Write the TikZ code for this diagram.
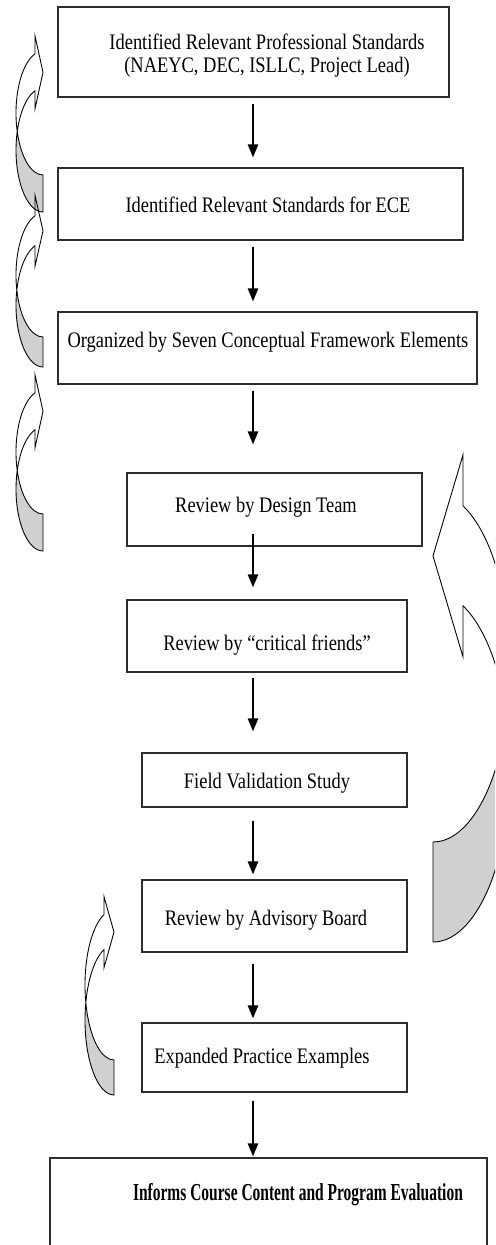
\documentclass[tikz,border=0pt]{standalone}
\usepackage{fontspec}
\setmainfont{Liberation Serif}
\usetikzlibrary{
    arrows.meta,
    calc,
    fit
}
\definecolor{backside}{RGB}{208,208,208}
\definecolor{frame}{RGB}{45,45,45}

% text is a little taller than wide in the source
\newcommand{\tall}[1]{\scalebox{1}[1.2]{#1}}

% curved return arrow, tail at the origin side, head at the top
% #1 band, #2 y radius, #3 x radius, #4 head inset, #5 half head
\newcommand{\returnarrow}[5]{%
    \pgfmathsetmacro{\neckang}{180+acos(#4/#3)}%
    \pgfmathsetmacro{\necky}{#2*sin(\neckang)}%
    \pgfmathsetmacro{\heady}{\necky+#1/2}%
    \pgfmathsetmacro{\crossang}{asin(#1/(2*#2))}%
    \fill[backside] ({#3*cos(180-\crossang)},{#2*sin(180-\crossang)})
        arc[start angle=180-\crossang, end angle=90, x radius=#3, y radius=#2]
        -- (0,{#1+#2})
        arc[start angle=90, end angle=180+\crossang, x radius=#3, y radius=#2] -- cycle;
    \draw[band] (0,{#1+#2})
        arc[start angle=90, end angle=\neckang, x radius=#3, y radius=#2]
        -- ({-#4},{\heady+#5}) -- (0,\heady) -- ({-#4},{\heady-#5}) -- ({-#4},\necky)
        arc[start angle=\neckang, end angle=90, x radius=#3, y radius=#2] -- cycle;
}

\begin{document}
\begin{tikzpicture}[x=0.02cm, y=-0.02cm,
    stage/.style={draw=frame, line width=0.6pt, inner sep=0pt},
    words/.style={font=\fontsize{10.5}{10.9}\selectfont, inner sep=0pt},
    flow/.style={line width=1.3pt, -{Triangle[length=7.4pt, width=5.7pt]}},
    band/.style={draw=black, line width=0.5pt}]
    \useasboundingbox (0,0) rectangle (495,1245);
    \clip (0,0) rectangle (495,1245);

    % Boxes
    \node[stage, fit={(58,7) (449,97)}] (b1) {};
    \node[stage, fit={(58,168) (463,240)}] (b2) {};
    \node[stage, fit={(58,312) (477,384)}] (b3) {};
    \node[stage, fit={(127,473) (422,546)}] (b4) {};
    \node[stage, fit={(127,600) (407,672)}] (b5) {};
    \node[stage, fit={(142,753) (407,807)}] (b6) {};
    \node[stage, fit={(142,880) (407,952)}] (b7) {};
    \node[stage, fit={(142,1023) (407,1092)}] (b8) {};
    \node[stage, fit={(50,1158) (487,1262)}] (b9) {};

    % Texts
    \node[words] (t1) at (267,56) {\tall{\begin{tabular}{@{}c@{}}Identified Relevant Professional Standards\\(NAEYC, DEC, ISLLC, Project Lead)\end{tabular}}};
    \node[words] (t2) at (268,205) {\tall{Identified Relevant Standards for ECE}};
    \node[words] (t3) at (268,342) {\tall{Organized by Seven Conceptual Framework Elements}};
    \node[words] (t4) at (266,507) {\tall{Review by Design Team}};
    \node[words] (t5) at (267,645) {\tall{Review by ``critical friends''}};
    \node[words] (t6) at (267,783) {\tall{Field Validation Study}};
    \node[words] (t7) at (266,920) {\tall{Review by Advisory Board}};
    \node[words] (t8) at (262,1058) {\tall{Expanded Practice Examples}};
    \node[words, font=\fontsize{10.5}{10.9}\selectfont\bfseries] (t9) at (298,1195)
        {\scalebox{0.84}[1.32]{Informs Course Content and Program Evaluation}};

    % Downward flow
    \coordinate (spine) at (253,0);
    \foreach \a/\b/\s/\e in {b1/b2/6/10, b2/b3/6/10, b3/b4/6/28, b4/b5/-13/12,
                             b5/b6/5/21, b6/b7/13/5, b7/b8/11/4, b8/b9/8/1}
        \draw[flow] ($(\a.south -| spine)+(0,\s)$) -- ($(\b.north -| spine)-(0,\e)$);

    % Curved arrows on the left
    \begin{scope}[shift={(43,113)}]
        \returnarrow{37}{62}{27}{8}{36.5}
    \end{scope}
    \begin{scope}[shift={(43,275)}]
        \returnarrow{30}{62}{27}{8}{35.5}
    \end{scope}
    \begin{scope}[shift={(43,452)}]
        \returnarrow{37}{62}{27}{8}{36.5}
    \end{scope}
    \begin{scope}[shift={(114,985)}]
        \returnarrow{35}{75}{29}{10}{35.5}
    \end{scope}

    % Large curved arrow on the right
    \begin{scope}[shift={(433,667)}, xscale=-1]
        \returnarrow{100}{175}{77}{30}{101}
    \end{scope}
\end{tikzpicture}
\end{document}
